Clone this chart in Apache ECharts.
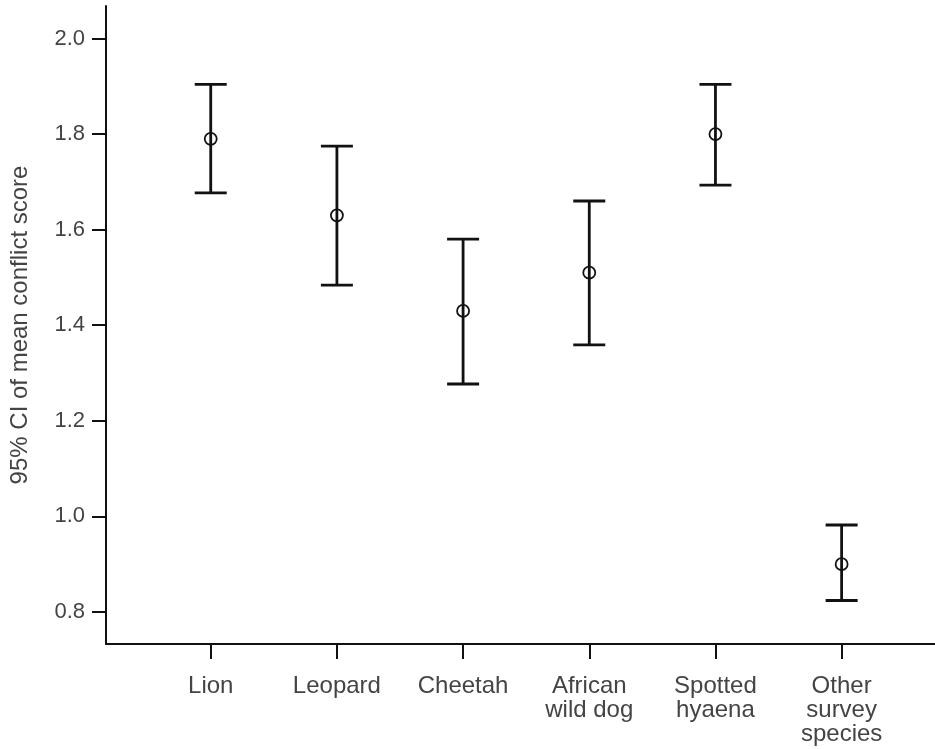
<!DOCTYPE html>
<html>
<head>
<meta charset="utf-8">
<script src="https://cdn.jsdelivr.net/npm/echarts@6/dist/echarts.min.js"></script>
<style>
html,body{margin:0;padding:0;background:#fff;}
#chart{width:935px;height:749px;}
</style>
</head>
<body>
<div id="chart"></div>
<script>
var categories = ["Lion", "Leopard", "Cheetah", "African\nwild dog", "Spotted\nhyaena", "Other\nsurvey\nspecies"];
var meanValues = [1.79, 1.63, 1.43, 1.51, 1.80, 0.90];
var lowerValues = [1.677, 1.484, 1.277, 1.359, 1.693, 0.824];
var upperValues = [1.904, 1.775, 1.580, 1.660, 1.904, 0.982];
var yTickValues = [0.8, 1.0, 1.2, 1.4, 1.6, 1.8, 2.0];
var xTickValues = [0, 1, 2, 3, 4, 5];

var data = categories.map(function (c, i) {
  return [i, lowerValues[i], upperValues[i], meanValues[i]];
});

var chart = echarts.init(document.getElementById('chart'));
var lineColor = '#111';
var textColor = '#444';
var font = 'Liberation Sans, Arial, sans-serif';

chart.setOption({
  animation: false,
  backgroundColor: '#fff',
  grid: { left: 103, right: 0, top: 6, bottom: 105, containLabel: false },
  xAxis: {
    type: 'value',
    min: -0.83,
    max: 5.74,
    splitLine: { show: false },
    axisLine: { show: true, onZero: false, lineStyle: { color: lineColor, width: 2 } },
    axisTick: { show: true, customValues: xTickValues, length: 15, lineStyle: { color: lineColor, width: 2 } },
    axisLabel: {
      show: true,
      customValues: xTickValues,
      margin: 30,
      color: textColor,
      fontFamily: font,
      fontSize: 24,
      lineHeight: 24,
      formatter: function (v) { return categories[Math.round(v)]; }
    }
  },
  yAxis: {
    type: 'value',
    min: 0.733,
    max: 2.068,
    name: '95% CI of mean conflict score',
    nameLocation: 'middle',
    nameGap: 74,
    nameTextStyle: { color: textColor, fontFamily: font, fontSize: 24 },
    splitLine: { show: false },
    axisLine: { show: true, onZero: false, lineStyle: { color: lineColor, width: 2 } },
    axisTick: { show: true, customValues: yTickValues, length: 14, lineStyle: { color: lineColor, width: 2 } },
    axisLabel: {
      show: true,
      customValues: yTickValues,
      margin: 21,
      color: textColor,
      fontFamily: font,
      fontSize: 22,
      formatter: function (v) { return v.toFixed(1); }
    }
  },
  series: [{
    type: 'custom',
    data: data,
    encode: { x: 0, y: [1, 2, 3] },
    renderItem: function (params, api) {
      var x = api.value(0);
      var lo = api.coord([x, api.value(1)]);
      var hi = api.coord([x, api.value(2)]);
      var mid = api.coord([x, api.value(3)]);
      var hw = 16;
      var st = { stroke: lineColor, lineWidth: 2.8, fill: null };
      return {
        type: 'group',
        children: [
          { type: 'line', shape: { x1: lo[0], y1: lo[1], x2: hi[0], y2: hi[1] }, style: st },
          { type: 'line', shape: { x1: hi[0] - hw, y1: hi[1], x2: hi[0] + hw, y2: hi[1] }, style: st },
          { type: 'line', shape: { x1: lo[0] - hw, y1: lo[1], x2: lo[0] + hw, y2: lo[1] }, style: st },
          { type: 'circle', shape: { cx: mid[0], cy: mid[1], r: 6 }, style: { stroke: lineColor, lineWidth: 1.8, fill: 'none' } }
        ]
      };
    }
  }]
});
</script>
</body>
</html>
